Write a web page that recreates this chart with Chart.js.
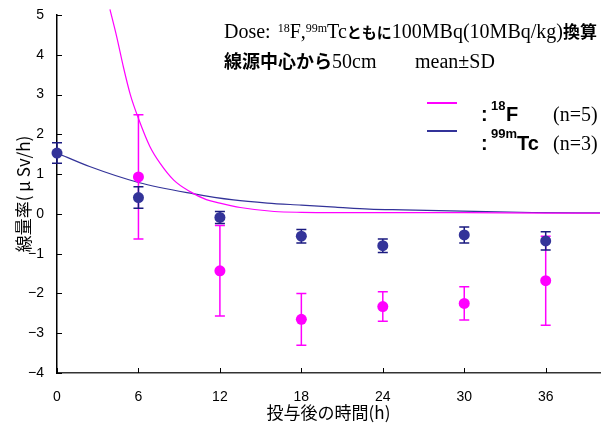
<!DOCTYPE html>
<html>
<head>
<meta charset="utf-8">
<script src="https://cdn.jsdelivr.net/npm/chart.js@4"></script>
<style>
html, body { margin: 0; padding: 0; background: #fff; }
canvas { display: block; }
</style>
</head>
<body>
<canvas id="doseChart" width="601" height="427"></canvas>
<script>
// 測定時刻 (h)
const hours = [0, 6, 12, 18, 24, 30, 36];

// 18F : 平均値 と SD
const fMean = [null, 0.93, -1.43, -2.65, -2.33, -2.25, -1.68];
const fSd   = [null, 1.56, 1.14, 0.65, 0.37, 0.42, 1.12];

// 99mTc : 平均値 と SD
const tcMean = [1.53, 0.41, -0.09, -0.56, -0.80, -0.53, -0.68];
const tcSd   = [0.26, 0.27, 0.15, 0.17, 0.17, 0.20, 0.23];

// 減衰曲線
const fCurveT = [3.9, 4.4, 4.9, 5.4, 6.0, 6.85, 7.6, 8.6, 9.8, 11, 12, 13.5, 16, 18, 24, 30, 36, 40];
const fCurveY = [5.14, 4.45, 3.68, 3.00, 2.40, 1.69, 1.27, 0.85, 0.56, 0.36, 0.27, 0.16, 0.06, 0.04, 0.03, 0.03, 0.02, 0.02];
const tcCurveT = [0, 2.4, 6, 10, 13, 15.5, 18, 20.5, 23, 25.5, 29, 35, 40];
const tcCurveY = [1.53, 1.19, 0.79, 0.51, 0.35, 0.27, 0.22, 0.17, 0.12, 0.10, 0.075, 0.035, 0.025];

// 目盛
const xTicks = [0, 6, 12, 18, 24, 30, 36];
const yTicks = [-4, -3, -2, -1, 0, 1, 2, 3, 4, 5];

const F_COLOR = '#ff00ff';
const TC_COLOR = '#333399';

const serif = s => `${s}px "Liberation Serif"`;
const sans = s => `bold ${s}px "Liberation Sans"`;
const jp = (s, w) => `${w || 'normal'} ${s}px "Noto Sans CJK JP"`;

const toPoints = (xs, ys) => xs.map((x, i) => ({ x: x, y: ys[i] }));

// 文字列を横に並べて描く
function drawRuns(ctx, x, y, runs) {
  runs.forEach(r => {
    x += r.dx || 0;
    ctx.font = r.font;
    ctx.fillText(r.text, x, y + (r.dy || 0));
    x += ctx.measureText(r.text).width;
  });
}

// 誤差棒 (各点の下に描く)
const errorBars = {
  id: 'errorBars',
  beforeDatasetDraw(chart, args) {
    const ds = chart.data.datasets[args.index];
    if (!ds.sd) return;
    const { ctx, scales: { x, y } } = chart;
    ctx.save();
    ctx.strokeStyle = ds.barColor;
    ctx.lineWidth = 1.5;
    ds.data.forEach((p, i) => {
      if (p.y == null) return;
      const px = x.getPixelForValue(p.x);
      const top = y.getPixelForValue(p.y + ds.sd[i]);
      const bot = y.getPixelForValue(p.y - ds.sd[i]);
      ctx.beginPath();
      ctx.moveTo(px, top); ctx.lineTo(px, bot);
      ctx.moveTo(px - 5, top); ctx.lineTo(px + 5, top);
      ctx.moveTo(px - 5, bot); ctx.lineTo(px + 5, bot);
      ctx.stroke();
    });
    ctx.restore();
  }
};

// 内向きの目盛線・注記・凡例・軸タイトル
const decorations = {
  id: 'decorations',
  afterDraw(chart) {
    const { ctx, chartArea: a, scales: { x, y } } = chart;
    ctx.save();

    ctx.strokeStyle = '#000';
    ctx.lineWidth = 1;
    ctx.beginPath();
    yTicks.forEach(v => {
      const py = Math.round(y.getPixelForValue(v)) + 0.5;
      ctx.moveTo(a.left, py); ctx.lineTo(a.left + 5, py);
    });
    xTicks.forEach(v => {
      const px = Math.round(x.getPixelForValue(v)) + 0.5;
      ctx.moveTo(px, a.bottom); ctx.lineTo(px, a.bottom - 5);
    });
    ctx.stroke();

    ctx.fillStyle = '#000';
    ctx.textBaseline = 'alphabetic';
    ctx.textAlign = 'left';

    drawRuns(ctx, 224, 38, [
      { text: 'Dose:', font: serif(20) },
      { text: '18', font: serif(12), dy: -6, dx: 7 },
      { text: 'F', font: serif(20) },
      { text: ',', font: serif(20) },
      { text: '99m', font: serif(12), dy: -6 },
      { text: 'Tc', font: serif(20) },
      { text: 'ともに', font: jp(15, 'bold') },
      { text: '100MBq(10MBq/kg)', font: serif(20) },
      { text: '換算', font: jp(17, 'bold') }
    ]);
    drawRuns(ctx, 224, 68, [
      { text: '線源中心から', font: jp(18, 'bold') },
      { text: '50cm', font: serif(20) }
    ]);
    drawRuns(ctx, 415, 68, [{ text: 'mean±SD', font: serif(20) }]);

    // 凡例
    ctx.lineWidth = 2;
    ctx.strokeStyle = F_COLOR;
    ctx.beginPath(); ctx.moveTo(427, 103); ctx.lineTo(457, 103); ctx.stroke();
    ctx.strokeStyle = TC_COLOR;
    ctx.beginPath(); ctx.moveTo(427, 131); ctx.lineTo(457, 131); ctx.stroke();

    drawRuns(ctx, 481, 121, [{ text: ':', font: sans(20) }]);
    drawRuns(ctx, 491, 110, [{ text: '18', font: sans(13) }]);
    drawRuns(ctx, 506, 121, [{ text: 'F', font: sans(20) }]);
    drawRuns(ctx, 553, 121, [{ text: '(n=5)', font: serif(20) }]);

    drawRuns(ctx, 481, 150, [{ text: ':', font: sans(20) }]);
    drawRuns(ctx, 491, 138, [{ text: '99m', font: sans(13) }]);
    drawRuns(ctx, 517, 150, [{ text: 'Tc', font: sans(20) }]);
    drawRuns(ctx, 553, 150, [{ text: '(n=3)', font: serif(20) }]);

    // 軸タイトル
    ctx.font = jp(17);
    ctx.textAlign = 'center';
    ctx.textBaseline = 'middle';
    ctx.fillText('投与後の時間(h)', (a.left + a.right) / 2, 413);
    ctx.translate(24, (a.top + a.bottom) / 2);
    ctx.rotate(-Math.PI / 2);
    ctx.fillText('線量率( μ Sv/h)', 0, 0);

    ctx.restore();
  }
};

new Chart(document.getElementById('doseChart'), {
  type: 'line',
  data: {
    datasets: [
      {
        label: '99mTc',
        data: toPoints(hours, tcMean),
        sd: tcSd,
        barColor: '#1a1a80',
        showLine: false,
        pointRadius: 5.5,
        pointBackgroundColor: TC_COLOR,
        pointBorderColor: TC_COLOR,
        pointBorderWidth: 0,
        clip: false
      },
      {
        label: '18F',
        data: toPoints(hours, fMean),
        sd: fSd,
        barColor: F_COLOR,
        showLine: false,
        pointRadius: 5.5,
        pointBackgroundColor: F_COLOR,
        pointBorderColor: F_COLOR,
        pointBorderWidth: 0,
        clip: false
      },
      {
        label: '18F curve',
        data: toPoints(fCurveT, fCurveY),
        borderColor: F_COLOR,
        borderWidth: 1.2,
        pointRadius: 0,
        cubicInterpolationMode: 'monotone',
        clip: false
      },
      {
        label: '99mTc curve',
        data: toPoints(tcCurveT, tcCurveY),
        borderColor: TC_COLOR,
        borderWidth: 1.2,
        pointRadius: 0,
        cubicInterpolationMode: 'monotone'
      }
    ]
  },
  options: {
    responsive: false,
    animation: false,
    devicePixelRatio: 1,
    layout: { autoPadding: false, padding: { top: 15, right: 1, left: 0, bottom: 0 } },
    plugins: { legend: { display: false }, title: { display: false }, tooltip: { enabled: false } },
    scales: {
      x: {
        type: 'linear',
        min: 0,
        max: 40,
        afterBuildTicks: axis => { axis.ticks = xTicks.map(v => ({ value: v })); },
        afterFit: axis => { axis.height = 54; },
        grid: { display: false, drawTicks: false },
        border: { display: true, color: '#333', width: 1.5 },
        ticks: { padding: 16, color: '#000', maxRotation: 0, font: { family: 'Liberation Sans', size: 14 } }
      },
      y: {
        min: -4,
        max: 5,
        afterBuildTicks: axis => { axis.ticks = yTicks.map(v => ({ value: v })); },
        afterFit: axis => {
          axis.width = 57;
          axis.paddingTop = 0;
          axis.paddingBottom = 0;
        },
        grid: { display: false, drawTicks: false },
        border: { display: true, color: '#000', width: 1.5 },
        ticks: {
          padding: 13,
          color: '#000',
          font: { family: 'Liberation Sans', size: 14 },
          callback: v => (v < 0 ? '−' + Math.abs(v) : String(v))
        }
      }
    }
  },
  plugins: [errorBars, decorations]
});
</script>
</body>
</html>
